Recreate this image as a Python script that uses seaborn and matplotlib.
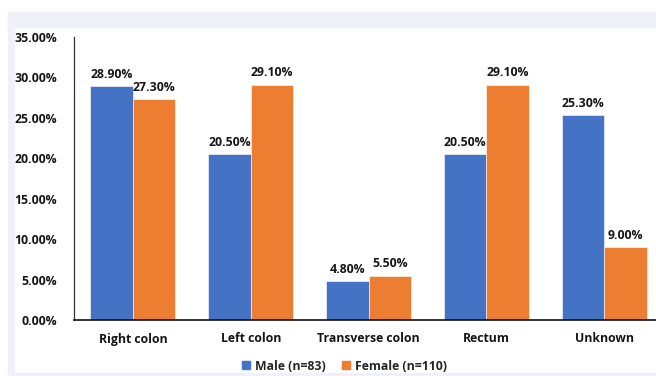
import matplotlib
matplotlib.use("Agg")
import matplotlib.pyplot as plt
from matplotlib.patches import Rectangle
from matplotlib.ticker import FuncFormatter
from matplotlib.lines import Line2D
import pandas as pd
import seaborn as sns

# Tumour location by sex (percent of patients)
locations = ["Right colon", "Left colon", "Transverse colon", "Rectum", "Unknown"]
male_pct = [28.90, 20.50, 4.80, 20.50, 25.30]
female_pct = [27.30, 29.10, 5.50, 29.10, 9.00]
series_names = ["Male (n=83)", "Female (n=110)"]
series_colors = ["#4472C4", "#ED7D31"]

df = pd.DataFrame({
    "location": locations * 2,
    "group": [series_names[0]] * len(locations) + [series_names[1]] * len(locations),
    "share": [v / 100 for v in male_pct + female_pct],
})

sns.set_theme(style="white")
plt.rcParams["font.family"] = ["Open Sans", "DejaVu Sans"]
plt.rcParams["font.weight"] = "bold"

FS = 8.8
TXT = "#151515"

fig = plt.figure(figsize=(6.56, 3.76), dpi=100)

# light page frame around the chart
frame_color = "#EFF1F7"
fig.patches.append(Rectangle((8 / 656, 1 - 27 / 376), 1, 15 / 376,
                             transform=fig.transFigure, color=frame_color, zorder=0))
fig.patches.append(Rectangle((8 / 656, 0), 6 / 656, 1 - 12 / 376,
                             transform=fig.transFigure, color=frame_color, zorder=0))
fig.patches.append(Rectangle((8 / 656, 0), 1, 3 / 376,
                             transform=fig.transFigure, color=frame_color, zorder=0))

ax = fig.add_axes([74 / 656, 1 - 320 / 376, 1 - 74 / 656, (320 - 37) / 376])
ax.set_facecolor("none")

sns.barplot(data=df, x="location", y="share", hue="group", order=locations,
            hue_order=series_names, palette=series_colors, width=0.72, gap=0,
            saturation=1, edgecolor="white", linewidth=0.4, ax=ax, legend=False)

for container, vals in zip(ax.containers, [male_pct, female_pct]):
    ax.bar_label(container, labels=[f"{v:.2f}%" for v in vals], padding=4,
                 fontsize=FS, fontweight="bold", color=TXT)

ax.set_ylim(0, 0.35)
ax.set_xlim(-0.5, 4.44)
ax.set_yticks([i * 0.05 for i in range(8)])
ax.yaxis.set_major_formatter(FuncFormatter(lambda v, _: f"{v * 100:.2f}%"))
ax.tick_params(axis="y", length=0, pad=12, labelsize=FS, labelcolor=TXT)
ax.tick_params(axis="x", length=0, pad=9, labelsize=FS, labelcolor=TXT)
for lab in ax.get_xticklabels() + ax.get_yticklabels():
    lab.set_fontweight("bold")
ax.set_xlabel("")
ax.set_ylabel("")

for side in ["top", "right"]:
    ax.spines[side].set_visible(False)
ax.spines["left"].set_color("#333333")
ax.spines["left"].set_linewidth(0.9)
ax.spines["bottom"].set_color("#111111")
ax.spines["bottom"].set_linewidth(1.2)
ax.spines["bottom"].set_clip_on(False)

handles = [Line2D([], [], marker="s", linestyle="none", markersize=6,
                  markerfacecolor=c, markeredgecolor=c) for c in series_colors]
fig.legend(handles, series_names, loc="center", bbox_to_anchor=(344 / 656, 1 - 366 / 376),
           ncol=2, frameon=False, handletextpad=0.3, columnspacing=1.3,
           handlelength=0.8, prop={"weight": "bold", "size": FS})

fig.savefig("out.png", dpi=100)
